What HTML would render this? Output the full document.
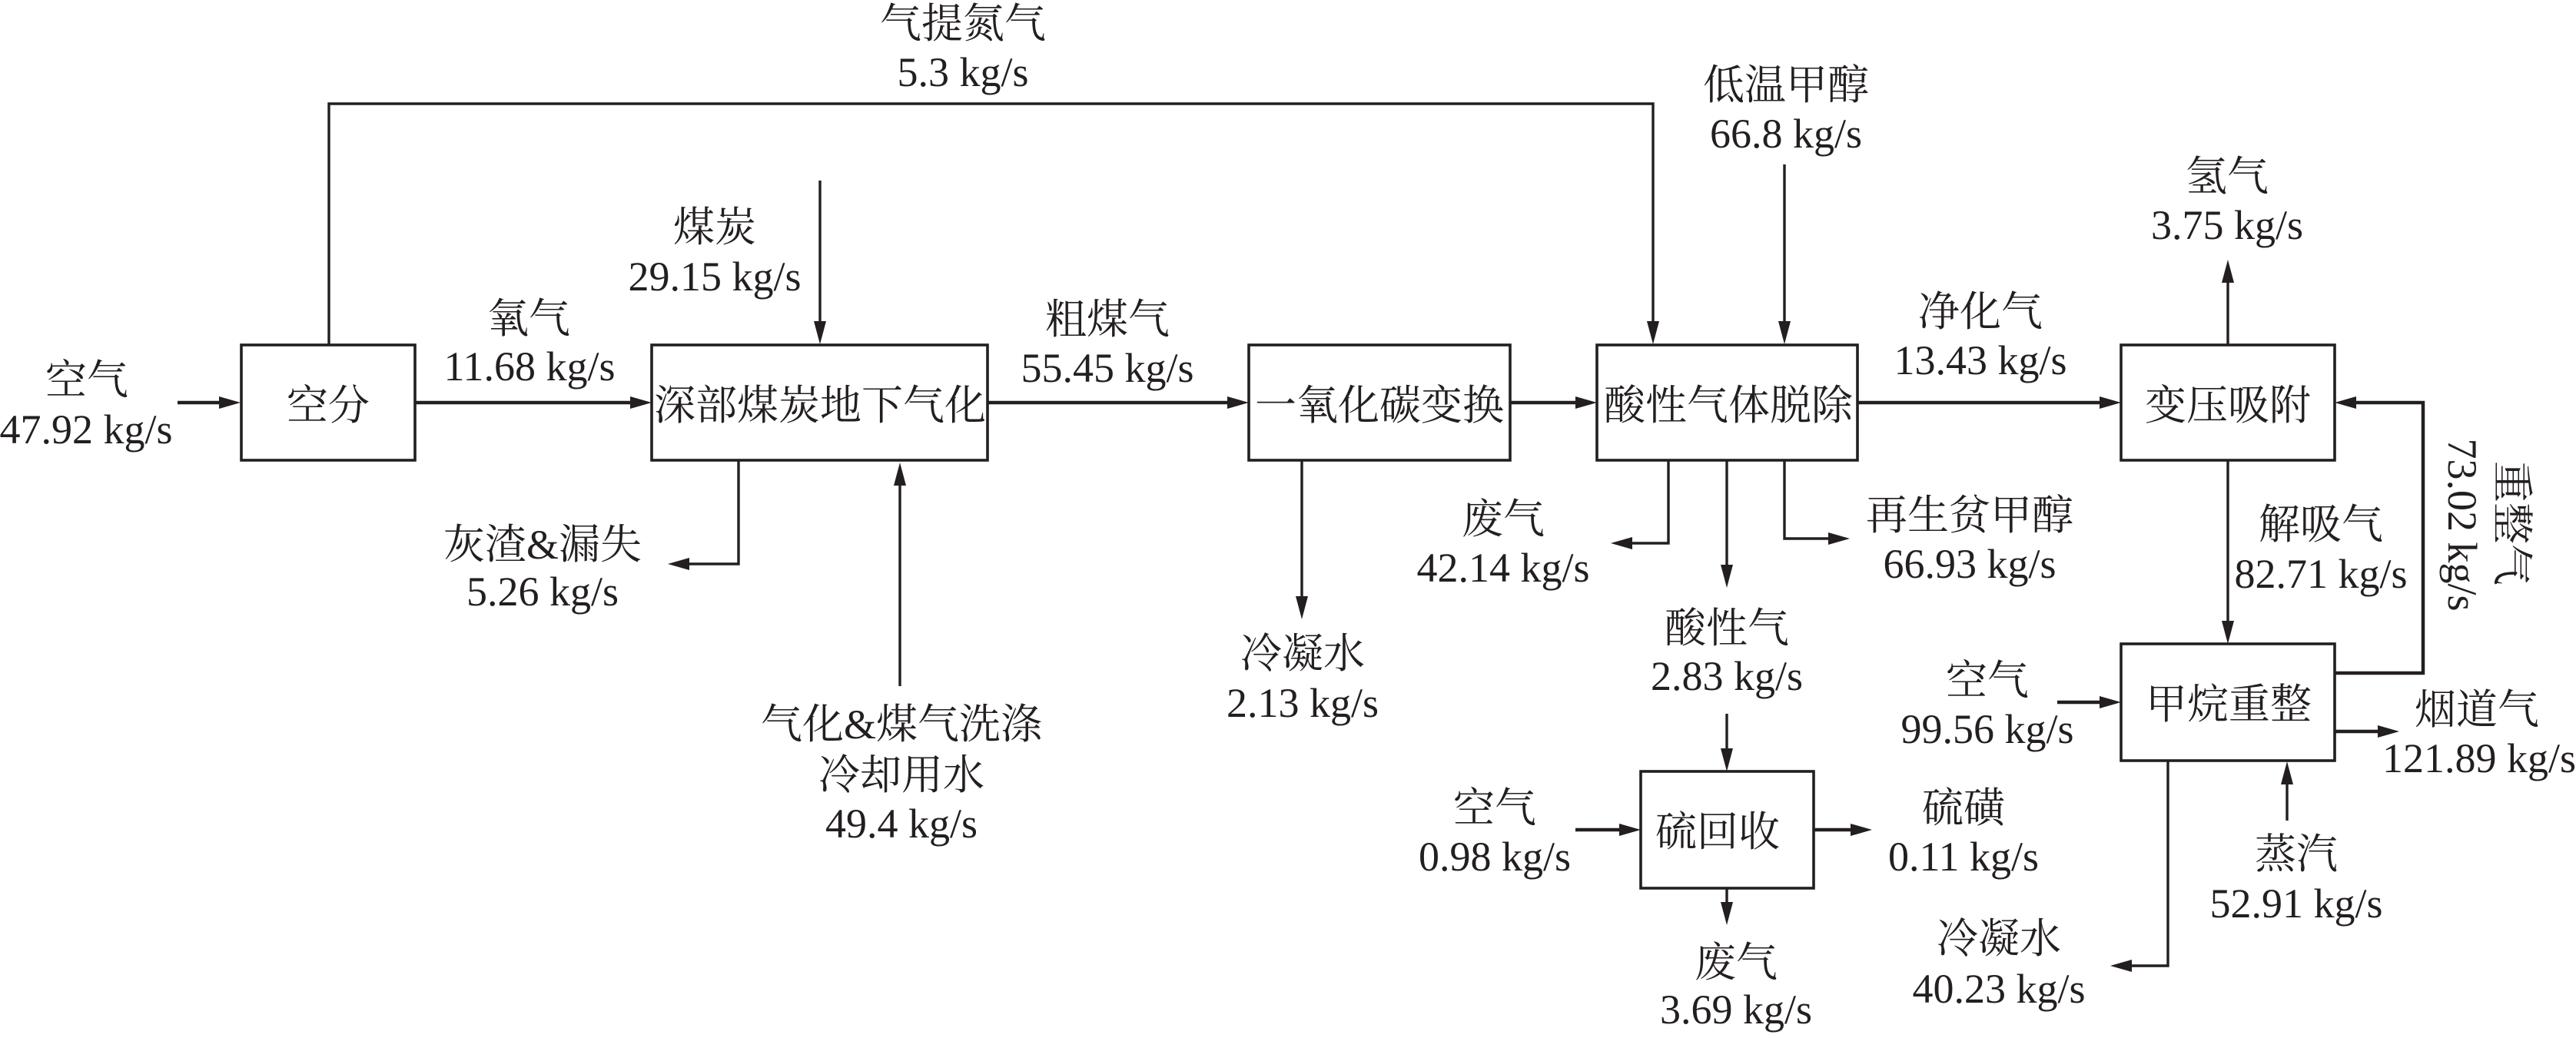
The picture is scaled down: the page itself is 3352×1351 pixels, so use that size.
<!DOCTYPE html>
<html lang="zh"><head><meta charset="utf-8"><title>流程图</title>
<style>
html,body{margin:0;padding:0;background:#fff}
svg{display:block}
text{font-family:"Liberation Serif","Noto Serif CJK SC",serif;font-size:54px;fill:#231f20;text-anchor:middle}
.b{fill:none;stroke:#231f20;stroke-width:3.6}
.l{fill:none;stroke:#231f20;stroke-width:3.4}
.h{fill:none;stroke:#231f20;stroke-width:4.5}
.a{fill:#231f20;stroke:none}
</style></head><body>
<svg xmlns="http://www.w3.org/2000/svg" width="3352" height="1351" viewBox="0 0 3352 1351">
<rect width="3352" height="1351" fill="#fff"/>
<!-- boxes -->
<rect class="b" x="314" y="449" width="226" height="150"/>
<rect class="b" x="848" y="449" width="437" height="150"/>
<rect class="b" x="1625" y="449" width="340" height="150"/>
<rect class="b" x="2078" y="449" width="339" height="150"/>
<rect class="b" x="2760" y="449" width="278" height="150"/>
<rect class="b" x="2760" y="838" width="278" height="152"/>
<rect class="b" x="2135" y="1004" width="225" height="152"/>
<!-- connectors -->
<path class="h" d="M231 524H290M540 524H824M1285 524H1601M1965 524H2054M2417 524H2736"/>
<path class="l" d="M428 449V135H2151V420"/>
<path class="l" d="M1067 235V420M2322 214V420M2899 449V368M961 599V734H893M1171 893V632M1694 599V776M2171 599V707H2120M2247 599V735M2322 599V701H2383M2899 599V808"/>
<path class="h" d="M3038 876H3153V524H3062M2677 914H2736M3038 952H3098M2050 1080H2111M2360 1080H2412"/>
<path class="l" d="M3153 524V876M2976 1068V1020M2247 929V974M2247 1156V1174M2821 990V1257H2770"/>
<!-- arrowheads -->
<g class="a">
<path d="M313 524L285 516V532Z"/>
<path d="M848 524L820 516V532Z"/>
<path d="M1625 524L1597 516V532Z"/>
<path d="M2078 524L2050 516V532Z"/>
<path d="M2760 524L2732 516V532Z"/>
<path d="M3038 524L3066 516V532Z"/>
<path d="M2760 914L2732 906V922Z"/>
<path d="M3122 952L3094 944V960Z"/>
<path d="M2135 1080L2107 1072V1088Z"/>
<path d="M2436 1080L2408 1072V1088Z"/>
<path d="M869 734L897 726V742Z"/>
<path d="M2096 707L2124 699V715Z"/>
<path d="M2407 701L2379 693V709Z"/>
<path d="M2746 1257L2774 1249V1265Z"/>
<path d="M1067 448L1059 418H1075Z"/>
<path d="M2151 448L2143 418H2159Z"/>
<path d="M2322 448L2314 418H2330Z"/>
<path d="M2899 338L2891 368H2907Z"/>
<path d="M1171 602L1163 632H1179Z"/>
<path d="M1694 806L1686 776H1702Z"/>
<path d="M2247 765L2239 735H2255Z"/>
<path d="M2899 838L2891 808H2907Z"/>
<path d="M2976 991L2968 1021H2984Z"/>
<path d="M2247 1004L2239 974H2255Z"/>
<path d="M2247 1204L2239 1174H2255Z"/>
</g>
<!-- box labels -->
<text x="427" y="546">空分</text>
<text x="1067" y="546">深部煤炭地下气化</text>
<text x="1795" y="546">一氧化碳变换</text>
<text x="2249" y="546">酸性气体脱除</text>
<text x="2899" y="546">变压吸附</text>
<text x="2900" y="935">甲烷重整</text>
<text x="2235" y="1101">硫回收</text>
<!-- stream labels -->
<text x="1253" y="49">气提氮气</text><text x="1253" y="112">5.3 kg/s</text>
<text x="113" y="513">空气</text><text x="112" y="577">47.92 kg/s</text>
<text x="930" y="314">煤炭</text><text x="930" y="378">29.15 kg/s</text>
<text x="688" y="433">氧气</text><text x="689" y="495">11.68 kg/s</text>
<text x="1441" y="434">粗煤气</text><text x="1441" y="497">55.45 kg/s</text>
<text x="2324" y="129">低温甲醇</text><text x="2324" y="192">66.8 kg/s</text>
<text x="2898" y="248">氢气</text><text x="2898" y="311">3.75 kg/s</text>
<text x="2577" y="424">净化气</text><text x="2577" y="487">13.43 kg/s</text>
<text x="706" y="727">灰渣&amp;漏失</text><text x="706" y="788">5.26 kg/s</text>
<text x="1173" y="961">气化&amp;煤气洗涤</text><text x="1173" y="1027">冷却用水</text><text x="1173" y="1090">49.4 kg/s</text>
<text x="1695" y="869">冷凝水</text><text x="1695" y="933">2.13 kg/s</text>
<text x="1956" y="694">废气</text><text x="1956" y="757">42.14 kg/s</text>
<text x="2563" y="689">再生贫甲醇</text><text x="2563" y="752">66.93 kg/s</text>
<text x="3020" y="701">解吸气</text><text x="3020" y="765">82.71 kg/s</text>
<text x="2247" y="836">酸性气</text><text x="2247" y="898">2.83 kg/s</text>
<text x="2586" y="904">空气</text><text x="2586" y="967">99.56 kg/s</text>
<text x="3223" y="942">烟道气</text><text x="3226" y="1005">121.89 kg/s</text>
<text x="1945" y="1070">空气</text><text x="1945" y="1133">0.98 kg/s</text>
<text x="2555" y="1070">硫磺</text><text x="2555" y="1133">0.11 kg/s</text>
<text x="2988" y="1130">蒸汽</text><text x="2988" y="1194">52.91 kg/s</text>
<text x="2259" y="1271">废气</text><text x="2259" y="1332">3.69 kg/s</text>
<text x="2601" y="1240">冷凝水</text><text x="2601" y="1305">40.23 kg/s</text>
<text transform="translate(3250 681) rotate(90)">重整气</text>
<text transform="translate(3186 683) rotate(90)">73.02 kg/s</text>
</svg>
</body></html>
